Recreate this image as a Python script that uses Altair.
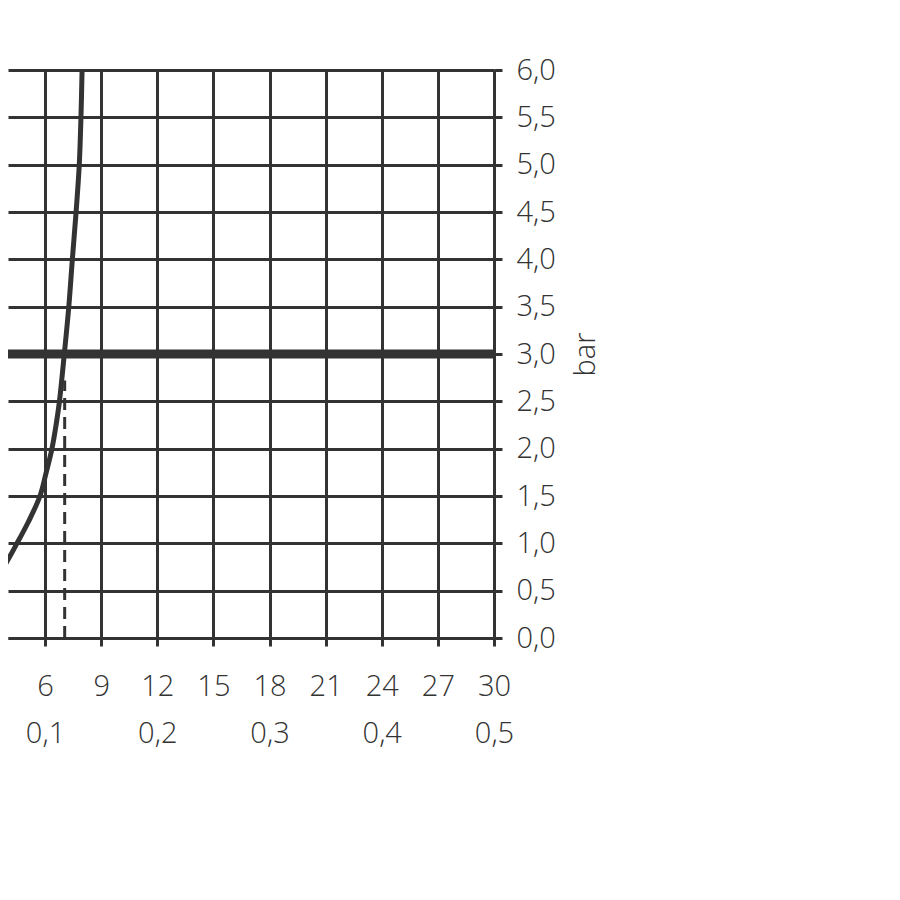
import altair as alt
import pandas as pd

# curve: flow (l/min) vs pressure (bar)
curve_bar = [0.5, 0.72, 1.0, 1.22, 1.5, 1.74, 2.0, 2.25, 2.5, 3.0, 3.5, 4.0, 4.5, 5.0, 5.5, 6.0]
curve_flow = [2.9, 3.70, 4.50, 5.09, 5.73, 6.05, 6.37, 6.59, 6.77, 7.03, 7.27, 7.46, 7.66, 7.83, 7.92, 7.98]

ref_pressure = [3.0]
dash_flow = [7.05]
dash_top = [2.72]

x_ticks = [3, 6, 9, 12, 15, 18, 21, 24, 27, 30]
x_sec_ticks = [6, 12, 18, 24, 30]
y_ticks = [0, 0.5, 1, 1.5, 2, 2.5, 3, 3.5, 4, 4.5, 5, 5.5, 6]

X_DOMAIN = [4.02, 30]
INK = "#333333"
FONT = "Open Sans"

curve_df = pd.DataFrame({"flow": curve_flow, "bar": curve_bar})
ref_df = pd.DataFrame({"bar": ref_pressure})
dash_df = pd.DataFrame({"flow": dash_flow, "bar0": [0.0], "bar1": dash_top})

xscale = alt.Scale(domain=X_DOMAIN, nice=False, zero=False)
yscale = alt.Scale(domain=[0, 6], nice=False, zero=True)

curve = alt.Chart(curve_df).mark_line(
    color=INK, strokeWidth=5, interpolate="catmull-rom", clip=True
).encode(
    x=alt.X("flow:Q", scale=xscale, axis=alt.Axis(
        values=x_ticks, title=None, orient="bottom",
        grid=True, gridColor=INK, gridWidth=3, gridOpacity=1,
        domain=True, domainColor=INK, domainWidth=3,
        ticks=True, tickColor=INK, tickWidth=3, tickSize=8,
        labelFontSize=29, labelFont=FONT, labelFontWeight=300, labelColor=INK,
        labelPadding=26, labelFlush=False, labelOverlap=False, format="d",
    )),
    y=alt.Y("bar:Q", scale=yscale, axis=alt.Axis(
        values=y_ticks, orient="right", title="bar",
        titleAngle=270, titleFont=FONT, titleFontSize=29,
        titleFontWeight=300, titleColor=INK, titlePadding=45,
        grid=True, gridColor=INK, gridWidth=3, gridOpacity=1,
        domain=True, domainColor=INK, domainWidth=3,
        ticks=True, tickColor=INK, tickWidth=3, tickSize=8,
        labelFontSize=29, labelFont=FONT, labelFontWeight=300, labelColor=INK,
        labelPadding=14, labelFlush=False, labelOverlap=False,
        labelExpr="replace(format(datum.value, '.1f'), '.', ',')",
    )),
    order="bar:Q",
)

dash = alt.Chart(dash_df).mark_rule(
    color=INK, strokeWidth=3, strokeDash=[12, 7], clip=True
).encode(
    x=alt.X("flow:Q", scale=xscale, axis=alt.Axis(
        values=x_sec_ticks, title=None, orient="bottom",
        grid=False, domain=False, ticks=False,
        labelFontSize=29, labelFont=FONT, labelFontWeight=300, labelColor=INK,
        labelPadding=81, labelFlush=False, labelOverlap=False,
        labelExpr="replace(format(datum.value / 60, '.1f'), '.', ',')",
    )),
    y=alt.Y("bar0:Q", scale=yscale),
    y2="bar1:Q",
)

ref = alt.Chart(ref_df).mark_rule(color=INK, strokeWidth=9).encode(
    y=alt.Y("bar:Q", scale=yscale),
)

chart = alt.layer(curve, ref, dash).resolve_axis(x="independent").properties(
    width=486,
    height=568,
    autosize=alt.AutoSizeParams(type="none"),
    padding={"left": 0, "top": 62, "right": 140, "bottom": 170},
    background="white",
).configure_view(stroke=None)

chart.save("out.html", embed_options={"renderer": "svg", "actions": False})
